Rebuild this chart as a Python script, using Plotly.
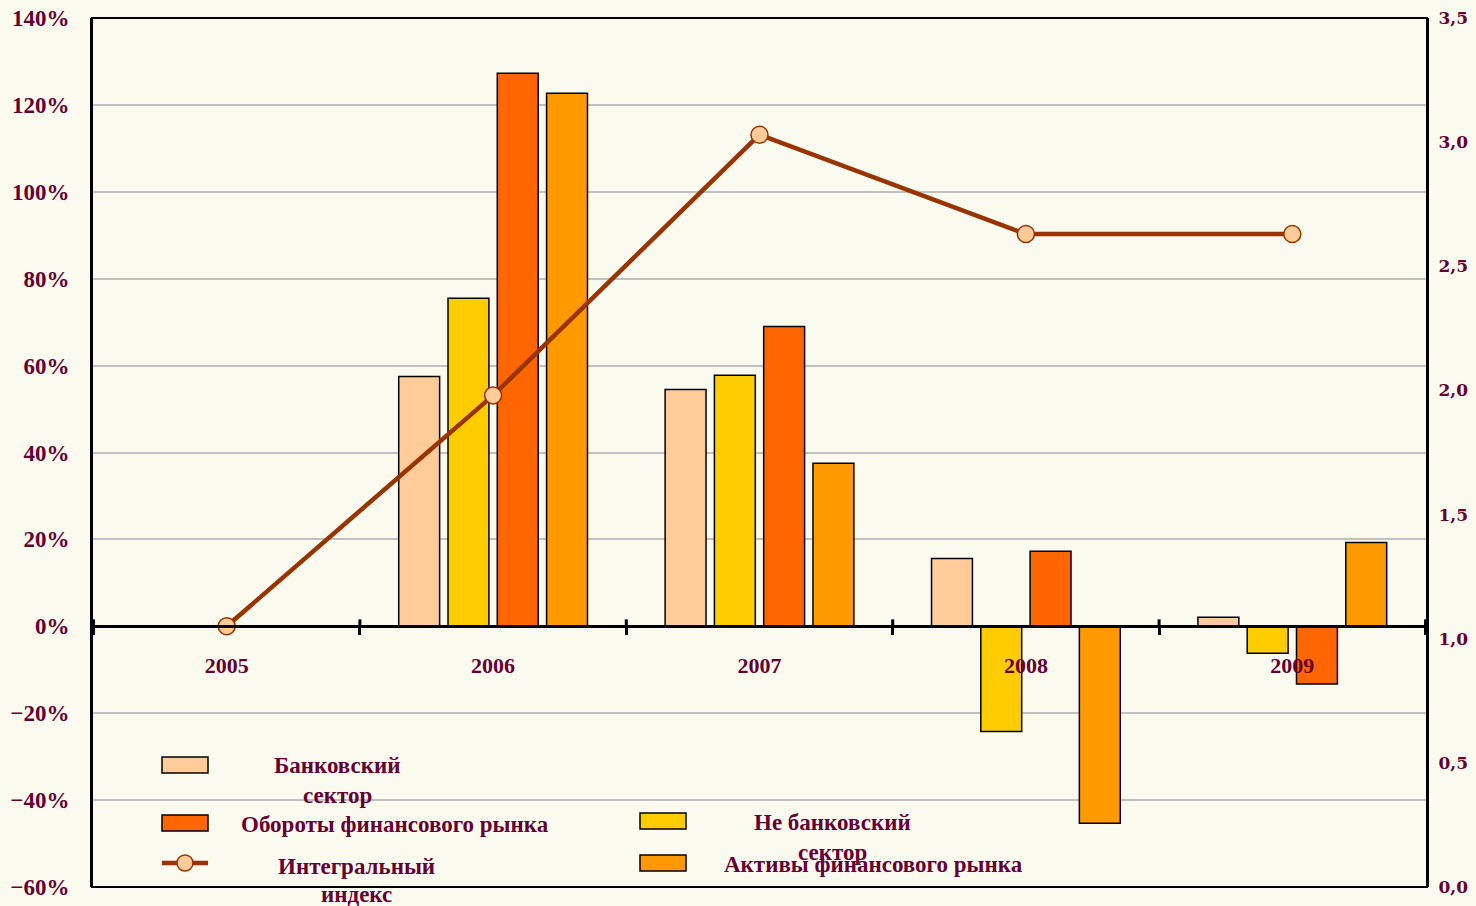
import plotly.graph_objects as go

years = ["2005", "2006", "2007", "2008", "2009"]
bank_sector = [None, 57.5, 54.5, 15.6, 2.1]
nonbank_sector = [None, 75.5, 57.8, -24.2, -6.2]
market_turnover = [None, 127.3, 69.0, 17.3, -13.3]
market_assets = [None, 122.7, 37.5, -45.3, 19.3]
integral_index = [1.05, 1.98, 3.03, 2.63, 2.63]

names = {
    "bank": "Банковский<br>сектор",
    "nonbank": "Не банковский<br>сектор",
    "turnover": "Обороты финансового рынка",
    "assets": "Активы финансового рынка",
    "index": "Интегральный<br>индекс",
}

C_BANK = "#FFCC99"
C_NONBANK = "#FFCC00"
C_TURN = "#FF6600"
C_ASSETS = "#FF9900"
C_LINE = "#993300"
TXT = "#660033"
BG = "#FAFAEE"

W, H = 1476, 906
PL, PR, PT, PB = 92, 1427, 18, 887          # plot box in page pixels
L, T = PL, PT
R, B = W - PR, H - PB
PW, PH = PR - PL, PB - PT


def px(x):
    return (x - PL) / PW


def py(y):
    return (PB - y) / PH


fig = go.Figure()
for vals, col, key in [
    (bank_sector, C_BANK, "bank"),
    (nonbank_sector, C_NONBANK, "nonbank"),
    (market_turnover, C_TURN, "turnover"),
    (market_assets, C_ASSETS, "assets"),
]:
    fig.add_trace(go.Bar(
        x=years, y=vals, name=names[key],
        marker=dict(color=col, line=dict(color="black", width=1.5)),
        yaxis="y", showlegend=False,
    ))

fig.add_trace(go.Scatter(
    x=years, y=integral_index, name=names["index"], yaxis="y2",
    mode="lines+markers",
    line=dict(color=C_LINE, width=4.5),
    marker=dict(size=17, color=C_BANK, line=dict(color=C_LINE, width=1.5)),
    showlegend=False,
))

font_main = dict(family="Liberation Serif", size=23, color=TXT, weight="bold")

fig.update_layout(
    width=W, height=H, autosize=False,
    margin=dict(l=L, r=R, t=T, b=B, pad=0, autoexpand=False),
    paper_bgcolor=BG, plot_bgcolor=BG,
    barmode="group", bargap=0.26, bargroupgap=0.17,
    font=font_main,
    separators=", ",
    xaxis=dict(
        type="category", anchor="free", position=0.3, automargin=False,
        showline=True, linecolor="black", linewidth=3,
        ticks="outside", tickson="boundaries", ticklen=7, tickwidth=3, tickcolor="black",
        ticklabelstandoff=18,
        tickfont=dict(family="Liberation Serif", size=22, color=TXT, weight="bold"),
        showgrid=False, zeroline=False,
    ),
    yaxis=dict(
        range=[-60, 140], dtick=20, ticksuffix="%", automargin=False,
        ticklabeloverflow="allow",
        showgrid=True, gridcolor="#C0C0C0", gridwidth=2,
        zeroline=False, showline=True, linecolor="black", linewidth=2,
        ticks="outside", ticklen=0,
        ticklabelstandoff=16,
        tickfont=dict(family="Liberation Serif", size=23, color=TXT, weight="bold"),
    ),
    yaxis2=dict(
        range=[0, 3.5], dtick=0.5, tickformat=".1f", automargin=False,
        ticklabeloverflow="allow",
        overlaying="y", side="right", showgrid=False, zeroline=False,
        showline=True, linecolor="black", linewidth=2,
        ticks="", ticklabelstandoff=6,
        tickfont=dict(family="DejaVu Serif", size=17, color=TXT, weight="bold"),
    ),
)

shapes = []
annotations = []
# frame
shapes.append(dict(type="rect", xref="paper", yref="paper", x0=0, x1=1, y0=0, y1=1,
                   line=dict(color="black", width=2)))
# upper halves of the crossing category ticks
for i in range(len(years) + 1):
    shapes.append(dict(type="line", xref="x", yref="y", x0=i - 0.5, x1=i - 0.5,
                       y0=0, y1=1.6, line=dict(color="black", width=3)))


def legend_rect(x0, x1, y0, y1, col):
    shapes.append(dict(type="rect", xref="paper", yref="paper",
                       x0=px(x0), x1=px(x1), y0=py(y1), y1=py(y0),
                       fillcolor=col, line=dict(color="black", width=1.5)))


def text(x, y, s):
    annotations.append(dict(text=s, x=px(x), y=py(y), xref="paper", yref="paper",
                            xanchor="center", yanchor="middle", showarrow=False,
                            font=font_main))


legend_rect(162, 208, 757, 773, C_BANK)
legend_rect(162, 208, 815, 831, C_TURN)
legend_rect(640, 686, 813, 829, C_NONBANK)
legend_rect(640, 686, 855, 871, C_ASSETS)
shapes.append(dict(type="line", xref="paper", yref="paper",
                   x0=px(162), x1=px(208), y0=py(863), y1=py(863),
                   line=dict(color=C_LINE, width=4.5)))
shapes.append(dict(type="circle", xref="paper", yref="paper",
                   x0=px(177), x1=px(193), y0=py(871), y1=py(855),
                   fillcolor=C_BANK, line=dict(color=C_LINE, width=1.5)))

text(337, 765, "Банковский")
text(337, 795, "сектор")
text(395, 824, "Обороты финансового рынка")
text(356, 866, "Интегральный")
text(356, 894, "индекс")
text(832, 822, "Не банковский")
text(832, 852, "сектор")
text(873, 864, "Активы финансового рынка")

fig.update_layout(shapes=shapes, annotations=annotations)

fig.write_html(
    "out.html",
    config={"displayModeBar": False},
    post_script="document.body.style.margin='0';document.body.style.overflow='hidden';",
)
